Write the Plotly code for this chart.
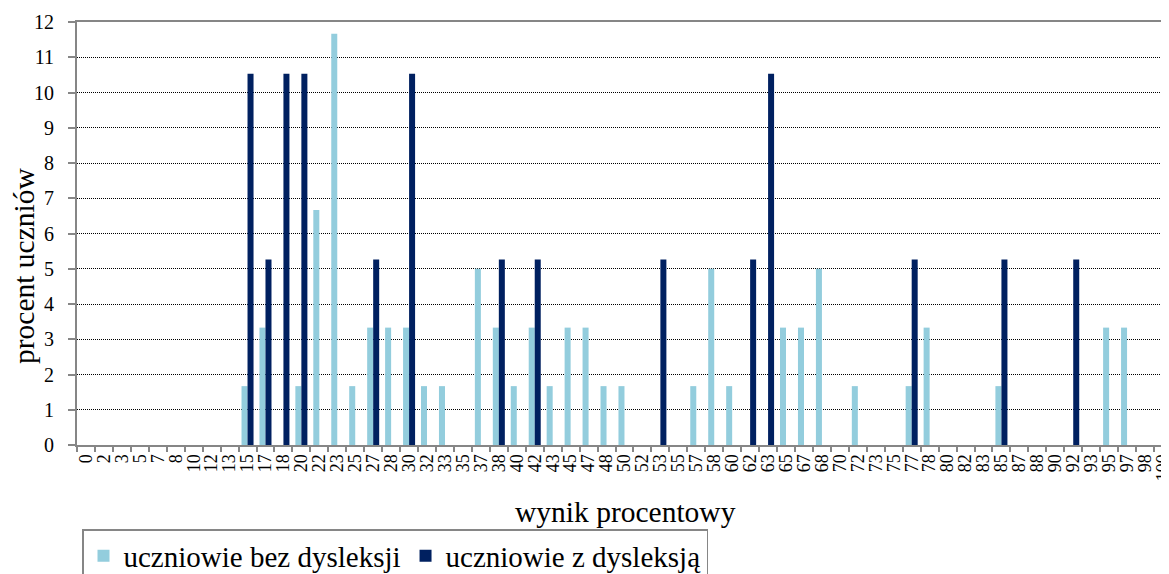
import plotly.graph_objects as go

categories = ["0", "2", "3", "5", "7", "8", "10", "12", "13", "15",
              "17", "18", "20", "22", "23", "25", "27", "28", "30", "32",
              "33", "35", "37", "38", "40", "42", "43", "45", "47", "48",
              "50", "52", "53", "55", "57", "58", "60", "62", "63", "65",
              "67", "68", "70", "72", "73", "75", "77", "78", "80", "82",
              "83", "85", "87", "88", "90", "92", "93", "95", "97", "98", "100"]

bez_dysleksji = [0, 0, 0, 0, 0, 0, 0, 0, 0, 1.67,
                 3.33, 0, 1.67, 6.67, 11.67, 1.67, 3.33, 3.33, 3.33, 1.67,
                 1.67, 0, 5.0, 3.33, 1.67, 3.33, 1.67, 3.33, 3.33, 1.67,
                 1.67, 0, 0, 0, 1.67, 5.0, 1.67, 0, 0, 3.33,
                 3.33, 5.0, 0, 1.67, 0, 0, 1.67, 3.33, 0, 0,
                 0, 1.67, 0, 0, 0, 0, 0, 3.33, 3.33, 0, 0]

z_dysleksja = [0, 0, 0, 0, 0, 0, 0, 0, 0, 10.53,
               5.26, 10.53, 10.53, 0, 0, 0, 5.26, 0, 10.53, 0,
               0, 0, 0, 5.26, 0, 5.26, 0, 0, 0, 0,
               0, 0, 5.26, 0, 0, 0, 0, 5.26, 10.53, 0,
               0, 0, 0, 0, 0, 0, 5.26, 0, 0, 0,
               0, 5.26, 0, 0, 0, 5.26, 0, 0, 0, 0, 0]

series_names = ["uczniowie bez dysleksji", "uczniowie z dysleksją"]
y_ticks = list(range(0, 13))

FONT = "Liberation Serif, Times New Roman, serif"
AXIS = "#868686"

# page has an 8px body margin: figure occupies page x 8..1169, y 8..574
W, H = 1161, 566
ML, MT, MB = 69, 14, 129
PW = W - ML            # plot width in px
PH = H - MT - MB       # plot height in px
CAT_W = 17.95

fig = go.Figure()
fig.add_trace(go.Bar(x=categories, y=bez_dysleksji, name=series_names[0],
                     marker=dict(color="#93CDDD", line=dict(width=0))))
fig.add_trace(go.Bar(x=categories, y=z_dysleksja, name=series_names[1],
                     marker=dict(color="#002060", line=dict(width=0))))

fig.update_layout(
    width=W, height=H,
    margin=dict(l=ML, r=0, t=MT, b=MB, autoexpand=False),
    paper_bgcolor="white", plot_bgcolor="white",
    barmode="group", bargap=0.33, bargroupgap=0,
    font=dict(family=FONT, color="black"),
    showlegend=True,
    legend=dict(orientation="h", xref="container", yref="container",
                x=74 / W, xanchor="left", y=1 - 521 / H, yanchor="top",
                bordercolor=AXIS, borderwidth=1.5,
                font=dict(family=FONT, size=29, color="black"),
                traceorder="normal"),
)

fig.update_xaxes(
    type="category", categoryorder="array", categoryarray=categories,
    range=[-0.5, -0.5 + PW / CAT_W],
    tickmode="array", tickvals=categories, ticktext=categories,
    showline=True, linecolor=AXIS, linewidth=2, mirror=True,
    ticks="outside", tickson="boundaries", ticklen=5, tickcolor=AXIS, tickwidth=1.5,
    tickangle=-90, tickfont=dict(family=FONT, size=18, color="black"),
    showgrid=False,
)
fig.update_yaxes(
    range=[0, 12], tickmode="array", tickvals=y_ticks, ticktext=[str(v) for v in y_ticks],
    showline=True, linecolor=AXIS, linewidth=2,
    ticks="outside", ticklen=7, tickcolor=AXIS, tickwidth=1.5,
    ticklabelstandoff=10,
    tickfont=dict(family=FONT, size=20, color="black"),
    showgrid=True, gridcolor="#000000", gridwidth=1, griddash="1px,1px",
    zeroline=False,
)

fig.add_annotation(text="procent uczniów", xref="paper", yref="paper",
                   x=(16 - ML) / PW, y=(437 - 258) / PH, textangle=-90,
                   showarrow=False, xanchor="center", yanchor="middle",
                   font=dict(family=FONT, size=29.5, color="black"))
fig.add_annotation(text="wynik procentowy", xref="paper", yref="paper",
                   x=(617 - ML) / PW, y=-(504 - 437) / PH,
                   showarrow=False, xanchor="center", yanchor="middle",
                   font=dict(family=FONT, size=29.5, color="black"))

fig.write_html("out.html")
